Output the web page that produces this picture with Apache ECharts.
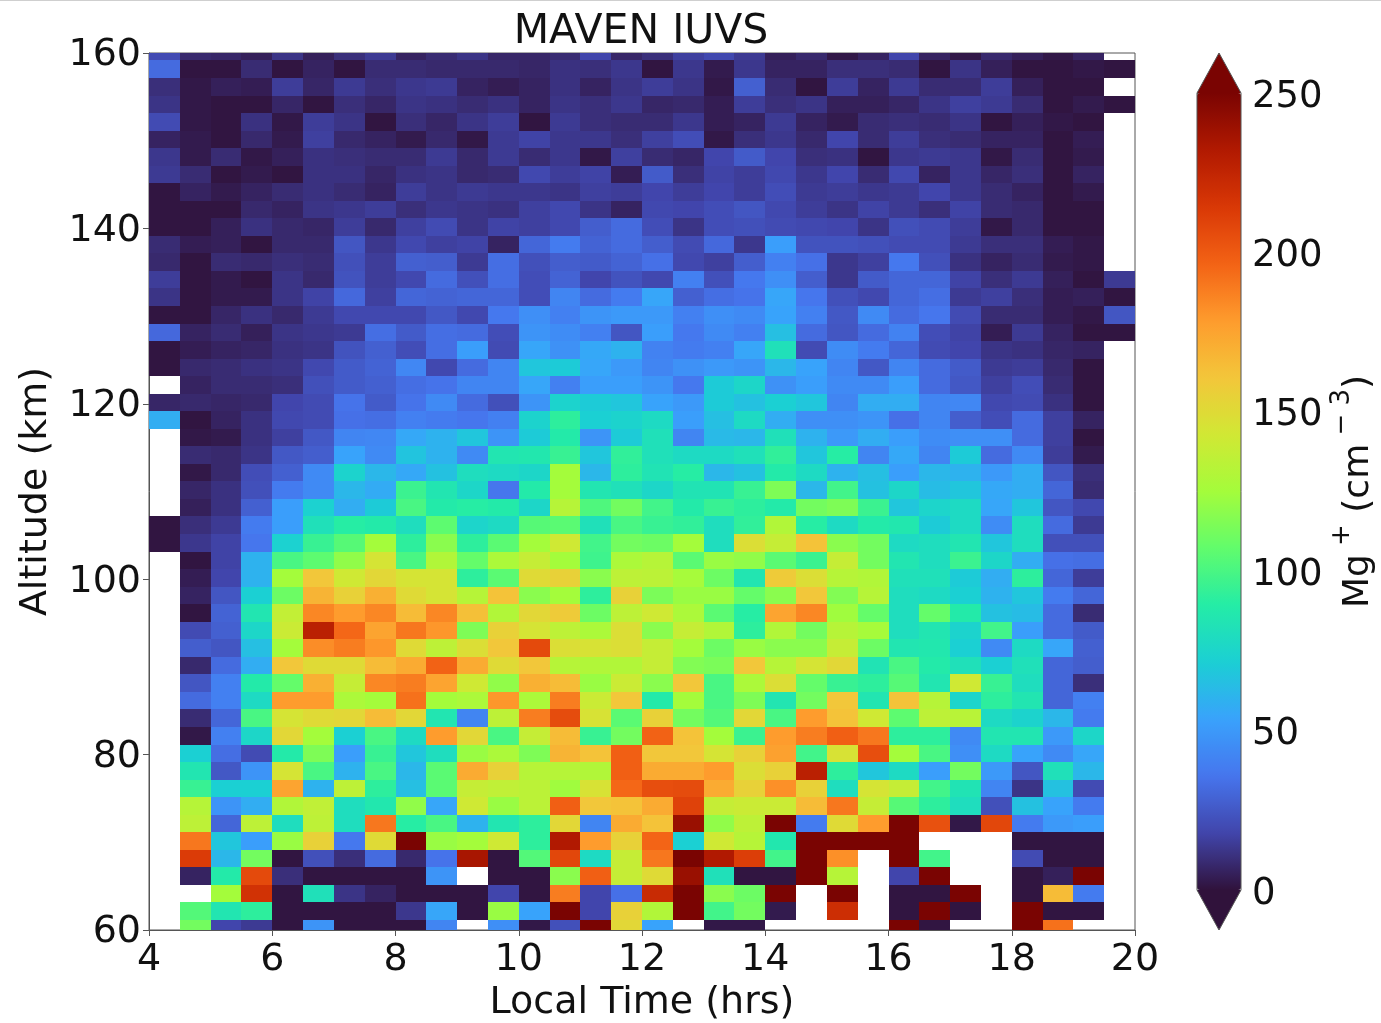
<!DOCTYPE html>
<html><head><meta charset="utf-8">
<style>html,body{margin:0;padding:0;background:#fff}#c{width:1381px;height:1023px}</style>
<script src="https://cdn.jsdelivr.net/npm/echarts@6/dist/echarts.min.js"></script>
</head><body><div id="c"></div>
<script>
const titleText = 'MAVEN IUVS';
const xName = 'Local Time (hrs)';
const yName = 'Altitude (km)';
const colorbarTicks = [0, 50, 100, 150, 200, 250];
const localTimes = [4.25,4.75,5.25,5.75,6.25,6.75,7.25,7.75,8.25,8.75,9.25,9.75,10.25,10.75,11.25,11.75,12.25,12.75,13.25,13.75,14.25,14.75,15.25,15.75,16.25,16.75,17.25,17.75,18.25,18.75,19.25,19.75];
const altitudes = [160.15,158.15,156.15,154.15,152.15,150.15,148.15,146.15,144.15,142.15,140.15,138.15,136.15,134.15,132.15,130.15,128.15,126.15,124.15,122.15,120.15,118.15,116.15,114.15,112.15,110.15,108.15,106.15,104.15,102.15,100.15,98.15,96.15,94.15,92.15,90.15,88.15,86.15,84.15,82.15,80.15,78.15,76.15,74.15,72.15,70.15,68.15,66.15,64.15,62.15,60.15];
const _ = null;
// one line per altitude (top to bottom), one value per local-time bin; null = no data
const density = [
[20,8,7,5,12,5,10,14,6,9,12,7,7,9,18,7,10,16,19,14,5,8,2,6,18,6,2,8,5,2,6,_],
[32,1,1,9,1,6,1,9,9,8,8,8,7,11,10,13,1,13,3,13,6,6,10,10,9,1,12,5,1,1,2,1],
[10,2,5,4,15,7,14,10,13,14,6,4,6,11,6,12,15,12,2,28,9,1,15,6,14,9,9,15,5,1,1,_],
[12,2,1,1,7,1,10,7,12,11,9,11,6,12,10,13,7,8,4,15,10,12,5,5,7,12,16,14,9,1,3,1],
[20,2,1,11,2,15,12,1,10,7,12,15,1,14,10,9,9,13,4,6,14,6,3,9,10,9,12,1,5,2,1,_],
[6,3,1,8,3,16,8,6,3,8,2,14,17,13,13,10,16,21,2,10,13,8,18,9,15,10,9,6,6,1,4,_],
[13,3,9,2,5,11,10,9,9,14,8,14,9,13,2,16,9,7,18,26,18,10,11,1,13,14,13,2,9,1,3,_],
[14,9,1,3,1,11,11,7,11,12,8,9,19,15,17,4,26,10,17,15,19,13,18,9,19,6,13,7,10,1,6,_],
[1,6,3,6,9,11,9,6,15,12,14,13,13,12,16,15,18,15,18,15,21,14,15,13,14,18,13,9,6,1,3,_],
[1,1,1,8,6,12,13,15,10,13,12,11,16,19,12,6,19,18,21,24,19,15,12,17,14,10,17,9,8,1,1,_],
[1,1,5,11,8,7,15,8,16,20,12,17,16,19,27,32,21,12,21,22,20,19,18,12,22,20,15,2,8,1,1,_],
[9,4,5,1,8,8,24,13,19,16,17,6,30,38,29,32,27,20,31,13,52,23,23,22,20,20,14,10,10,4,2,_],
[8,1,9,8,10,9,22,15,28,27,14,33,22,27,26,29,34,19,16,27,40,34,13,16,37,22,11,6,9,3,2,_],
[15,1,3,1,12,8,23,15,19,32,22,33,21,29,18,23,19,40,22,37,46,27,13,26,30,30,17,10,14,5,1,14],
[12,1,3,3,12,17,31,16,30,29,30,30,21,42,32,38,55,28,33,35,55,36,22,19,30,33,14,16,10,4,5,1],
[1,1,7,11,8,14,19,19,19,25,19,37,46,40,48,50,50,40,46,44,54,40,25,44,32,36,20,9,9,4,2,24],
[31,6,9,5,12,13,14,33,26,33,32,21,48,45,40,24,52,37,44,40,65,32,24,32,41,21,17,4,14,6,1,1],
[1,4,6,7,11,12,23,28,21,33,52,20,55,47,56,60,41,38,40,55,82,20,45,38,30,20,18,12,11,7,6,_],
[1,8,9,11,12,19,26,29,43,19,32,42,68,70,55,50,42,47,50,48,62,54,42,25,42,32,26,14,15,8,1,_],
[_,6,9,9,10,22,26,28,33,35,42,42,55,40,52,52,48,37,70,76,47,52,44,44,52,32,25,16,21,9,1,_],
[7,8,7,8,18,20,35,26,35,44,32,22,48,74,70,68,54,50,70,66,72,68,42,58,58,42,43,19,20,11,1,_],
[58,1,6,11,19,20,34,33,40,38,36,40,74,92,72,74,78,52,65,78,58,46,46,48,34,42,27,21,32,16,6,_],
[_,2,3,11,16,25,42,43,56,60,68,48,70,88,48,70,82,42,63,62,82,60,50,58,52,45,46,46,32,16,1,_],
[_,9,8,12,25,27,54,44,67,60,44,85,86,95,68,93,82,78,78,82,93,68,90,42,56,42,70,32,44,15,3,_],
[_,2,8,21,28,44,74,62,56,66,80,78,76,125,62,92,84,90,62,66,88,78,60,65,52,62,60,50,58,24,10,_],
[_,7,11,22,38,44,62,57,96,85,76,36,88,125,85,82,76,84,84,95,115,62,98,66,76,64,68,56,58,30,9,_],
[_,5,11,28,52,73,58,70,100,88,90,88,76,132,102,112,98,88,95,92,88,112,115,96,68,75,78,55,68,24,19,_],
[1,10,14,38,52,82,90,88,80,106,75,78,104,105,82,100,95,93,80,93,130,90,78,88,86,70,78,45,80,32,14,_],
[1,13,17,36,73,95,104,125,92,118,92,105,125,142,98,112,110,125,80,148,138,162,118,112,78,80,85,68,80,22,22,_],
[_,1,17,60,100,106,120,145,100,130,108,128,138,125,97,128,132,105,122,120,105,96,138,112,85,80,96,76,58,34,33,_],
[_,4,18,60,125,160,142,152,145,145,92,105,150,155,118,135,134,126,110,85,158,148,132,130,82,82,70,58,92,30,15,_],
[_,6,24,72,110,168,155,170,150,145,132,162,118,125,92,155,114,122,122,108,118,160,116,132,80,78,72,60,68,38,30,_],
[_,1,29,85,137,185,178,185,165,185,163,130,152,158,110,135,142,128,105,90,175,185,124,108,80,108,88,66,64,32,9,_],
[_,20,28,76,140,228,195,175,190,180,115,155,145,135,128,148,118,138,130,92,130,112,132,126,80,85,74,98,52,32,26,_],
[_,27,24,65,125,183,188,180,150,135,148,160,207,148,146,148,138,125,110,122,118,118,138,110,85,86,72,44,78,55,28,_],
[_,8,32,58,160,150,150,165,172,197,172,150,160,132,130,130,138,116,114,160,132,145,152,84,100,88,82,72,82,30,27,_],
[_,24,40,88,108,170,138,185,188,175,142,120,170,165,122,140,118,160,100,128,148,108,95,92,104,85,142,95,80,30,10,_],
[_,32,40,78,178,178,128,125,192,125,128,180,128,188,140,160,88,125,100,115,85,112,160,85,162,132,75,92,85,30,40,_],
[_,9,30,100,145,150,152,165,152,85,42,135,188,206,146,105,155,112,103,152,100,178,162,142,106,135,133,78,74,62,38,_],
[_,2,40,76,152,125,72,100,78,178,152,100,138,165,95,112,197,162,125,96,178,188,198,190,92,92,44,85,85,50,76,_],
[_,72,33,20,88,115,52,95,68,80,122,128,115,168,162,198,160,160,145,155,176,98,146,205,125,100,46,78,54,44,55,_],
[_,85,25,48,145,100,60,100,62,105,172,155,132,132,130,198,172,172,178,148,155,228,92,68,78,52,112,50,24,82,62,_],
[_,95,72,72,175,60,135,92,65,105,138,136,134,124,146,195,205,206,172,155,182,155,80,145,138,98,84,42,12,66,20,_],
[_,132,48,58,130,136,80,86,120,55,142,122,134,198,160,162,172,210,138,140,140,165,190,138,104,92,80,22,66,54,38,_],
[_,135,30,135,80,135,80,190,90,100,60,85,92,152,42,172,162,240,120,135,250,38,150,178,250,204,2,208,38,50,52,_],
[_,190,68,52,122,155,37,150,250,122,125,142,92,232,178,155,196,72,142,132,86,250,250,250,250,_,_,_,1,1,1,_],
[_,213,62,112,1,22,10,32,8,35,235,1,103,208,78,138,190,250,232,212,98,250,182,_,250,98,_,_,20,1,1,_],
[_,6,88,207,10,1,1,1,1,48,_,1,1,118,198,138,150,240,82,1,1,250,132,_,18,250,_,_,1,5,250,_],
[_,_,125,218,1,82,12,6,1,1,1,18,1,188,18,34,222,250,118,110,250,_,250,_,1,1,250,_,1,165,38,_],
[_,103,85,92,1,1,1,1,13,55,1,122,54,250,18,155,130,250,98,112,3,_,220,_,1,250,1,_,250,1,1,_],
[_,112,18,14,1,48,1,1,1,42,_,46,2,22,250,152,54,_,2,2,_,_,_,_,250,1,_,_,250,192,_,_]
];
const turbo = ['#30123b','#4145ab','#4675ed','#39a2fc','#1bcfd4','#24eca6','#61fc6c','#a4fc3b','#d1e834','#f3c63a','#fe9b2d','#f36315','#d93806','#b11901','#7a0402'];

const cells = [];
density.forEach((row, r) => row.forEach((v, c) => { if (v !== null) cells.push([localTimes[c], altitudes[r], v]); }));

const font = 'DejaVu Sans';
const ink = '#111';
const spine = '#555';
const chart = echarts.init(document.getElementById('c'), null, {renderer: 'canvas'});
chart.setOption({
  animation: false,
  backgroundColor: '#fff',
  title: {text: titleText, left: 641, top: 12, textAlign: 'center', padding: 0,
    textStyle: {fontFamily: font, fontSize: 41, fontWeight: 'normal', color: ink}},
  grid: [
    {left: 149, top: 53, width: 986, height: 877, show: true, borderColor: spine, borderWidth: 1, backgroundColor: '#fff', containLabel: false, outerBoundsMode: 'none'},
    {left: 1197, top: 93, width: 44, height: 797, show: false, containLabel: false, outerBoundsMode: 'none'}
  ],
  xAxis: [
    {type: 'value', gridIndex: 0, min: 4, max: 20, interval: 2, name: xName, nameLocation: 'middle', nameGap: 54, nameMoveOverlap: false,
     nameTextStyle: {fontFamily: font, fontSize: 38, color: ink},
     axisLine: {show: true, lineStyle: {color: spine}}, axisTick: {show: true, length: 6, lineStyle: {color: spine}},
     splitLine: {show: false}, axisLabel: {fontFamily: font, fontSize: 38, color: ink, margin: 11, hideOverlap: false, showMinLabel: true, showMaxLabel: true}},
    {type: 'value', gridIndex: 1, min: 0, max: 1, show: false}
  ],
  yAxis: [
    {type: 'value', gridIndex: 0, min: 60, max: 160, interval: 20, name: yName, nameLocation: 'middle', nameRotate: 90, nameGap: 94, nameMoveOverlap: false,
     nameTextStyle: {fontFamily: font, fontSize: 38, color: ink},
     axisLine: {show: true, lineStyle: {color: spine}}, axisTick: {show: true, length: 6, lineStyle: {color: spine}},
     splitLine: {show: false},
     axisLabel: {margin: 8, showMinLabel: true, showMaxLabel: true, formatter: v => `{a|${v}}`,
       rich: {a: {fontFamily: font, fontSize: 38, color: ink, padding: [5, 0, 0, 0]}}}},
    {type: 'value', gridIndex: 1, min: colorbarTicks[0], max: colorbarTicks[colorbarTicks.length - 1], interval: 50, position: 'right',
     name: '{t|Mg}{s| +}{t| (cm}{s| − 3}{t|)}', nameLocation: 'middle', nameRotate: 90, nameGap: 88, nameMoveOverlap: false,
     nameTextStyle: {rich: {
       t: {fontFamily: font, fontSize: 36, color: ink, lineHeight: 48, verticalAlign: 'bottom'},
       s: {fontFamily: font, fontSize: 26, color: ink, lineHeight: 48, verticalAlign: 'top'}
     }},
     axisLine: {show: false}, axisTick: {show: true, length: 6, lineStyle: {color: spine}},
     splitLine: {show: false},
     axisLabel: {margin: 11, showMinLabel: true, showMaxLabel: true, formatter: v => `{a|${v}}`,
       rich: {a: {fontFamily: font, fontSize: 37, color: ink, padding: [8, 0, 0, 0]}}}}
  ],
  visualMap: {
    type: 'continuous', seriesIndex: 0, dimension: 2, min: 0, max: 250, left: 1197, top: 93, padding: 0,
    itemWidth: 44, itemHeight: 797, calculable: false, text: null, hoverLink: false, realtime: false,
    inRange: {color: turbo}, textStyle: {color: 'transparent', fontSize: 1}
  },
  series: [{
    type: 'custom', coordinateSystem: 'cartesian2d', xAxisIndex: 0, yAxisIndex: 0, clip: true,
    encode: {x: 0, y: 1}, data: cells, silent: true,
    renderItem(params, api) {
      const a = api.coord([api.value(0) - 0.25, api.value(1) + 1]);
      const b = api.coord([api.value(0) + 0.25, api.value(1) - 1]);
      const x = Math.round(a[0]), y = Math.round(a[1]);
      const shape = echarts.graphic.clipRectByRect(
        {x, y, width: Math.round(b[0]) - x, height: Math.round(b[1]) - y},
        {x: params.coordSys.x, y: params.coordSys.y, width: params.coordSys.width, height: params.coordSys.height});
      return shape && {type: 'rect', shape, style: {fill: api.visual('color')}};
    }
  }],
  graphic: [
    {type: 'polygon', silent: true, z: 50, shape: {points: [[1197, 93], [1219, 53], [1241, 93]]}, style: {fill: turbo[turbo.length - 1]}},
    {type: 'polygon', silent: true, z: 50, shape: {points: [[1197, 890], [1219, 930], [1241, 890]]}, style: {fill: turbo[0]}},
    {type: 'polygon', silent: true, z: 51, shape: {points: [[1197, 93], [1219, 53], [1241, 93], [1241, 890], [1219, 930], [1197, 890]]}, style: {fill: 'none', stroke: spine, lineWidth: 1}},
    {type: 'rect', silent: true, z: 1, shape: {x: 0, y: 0, width: 1381, height: 1}, style: {fill: '#cfcfcf'}}
  ]
});
</script></body></html>
